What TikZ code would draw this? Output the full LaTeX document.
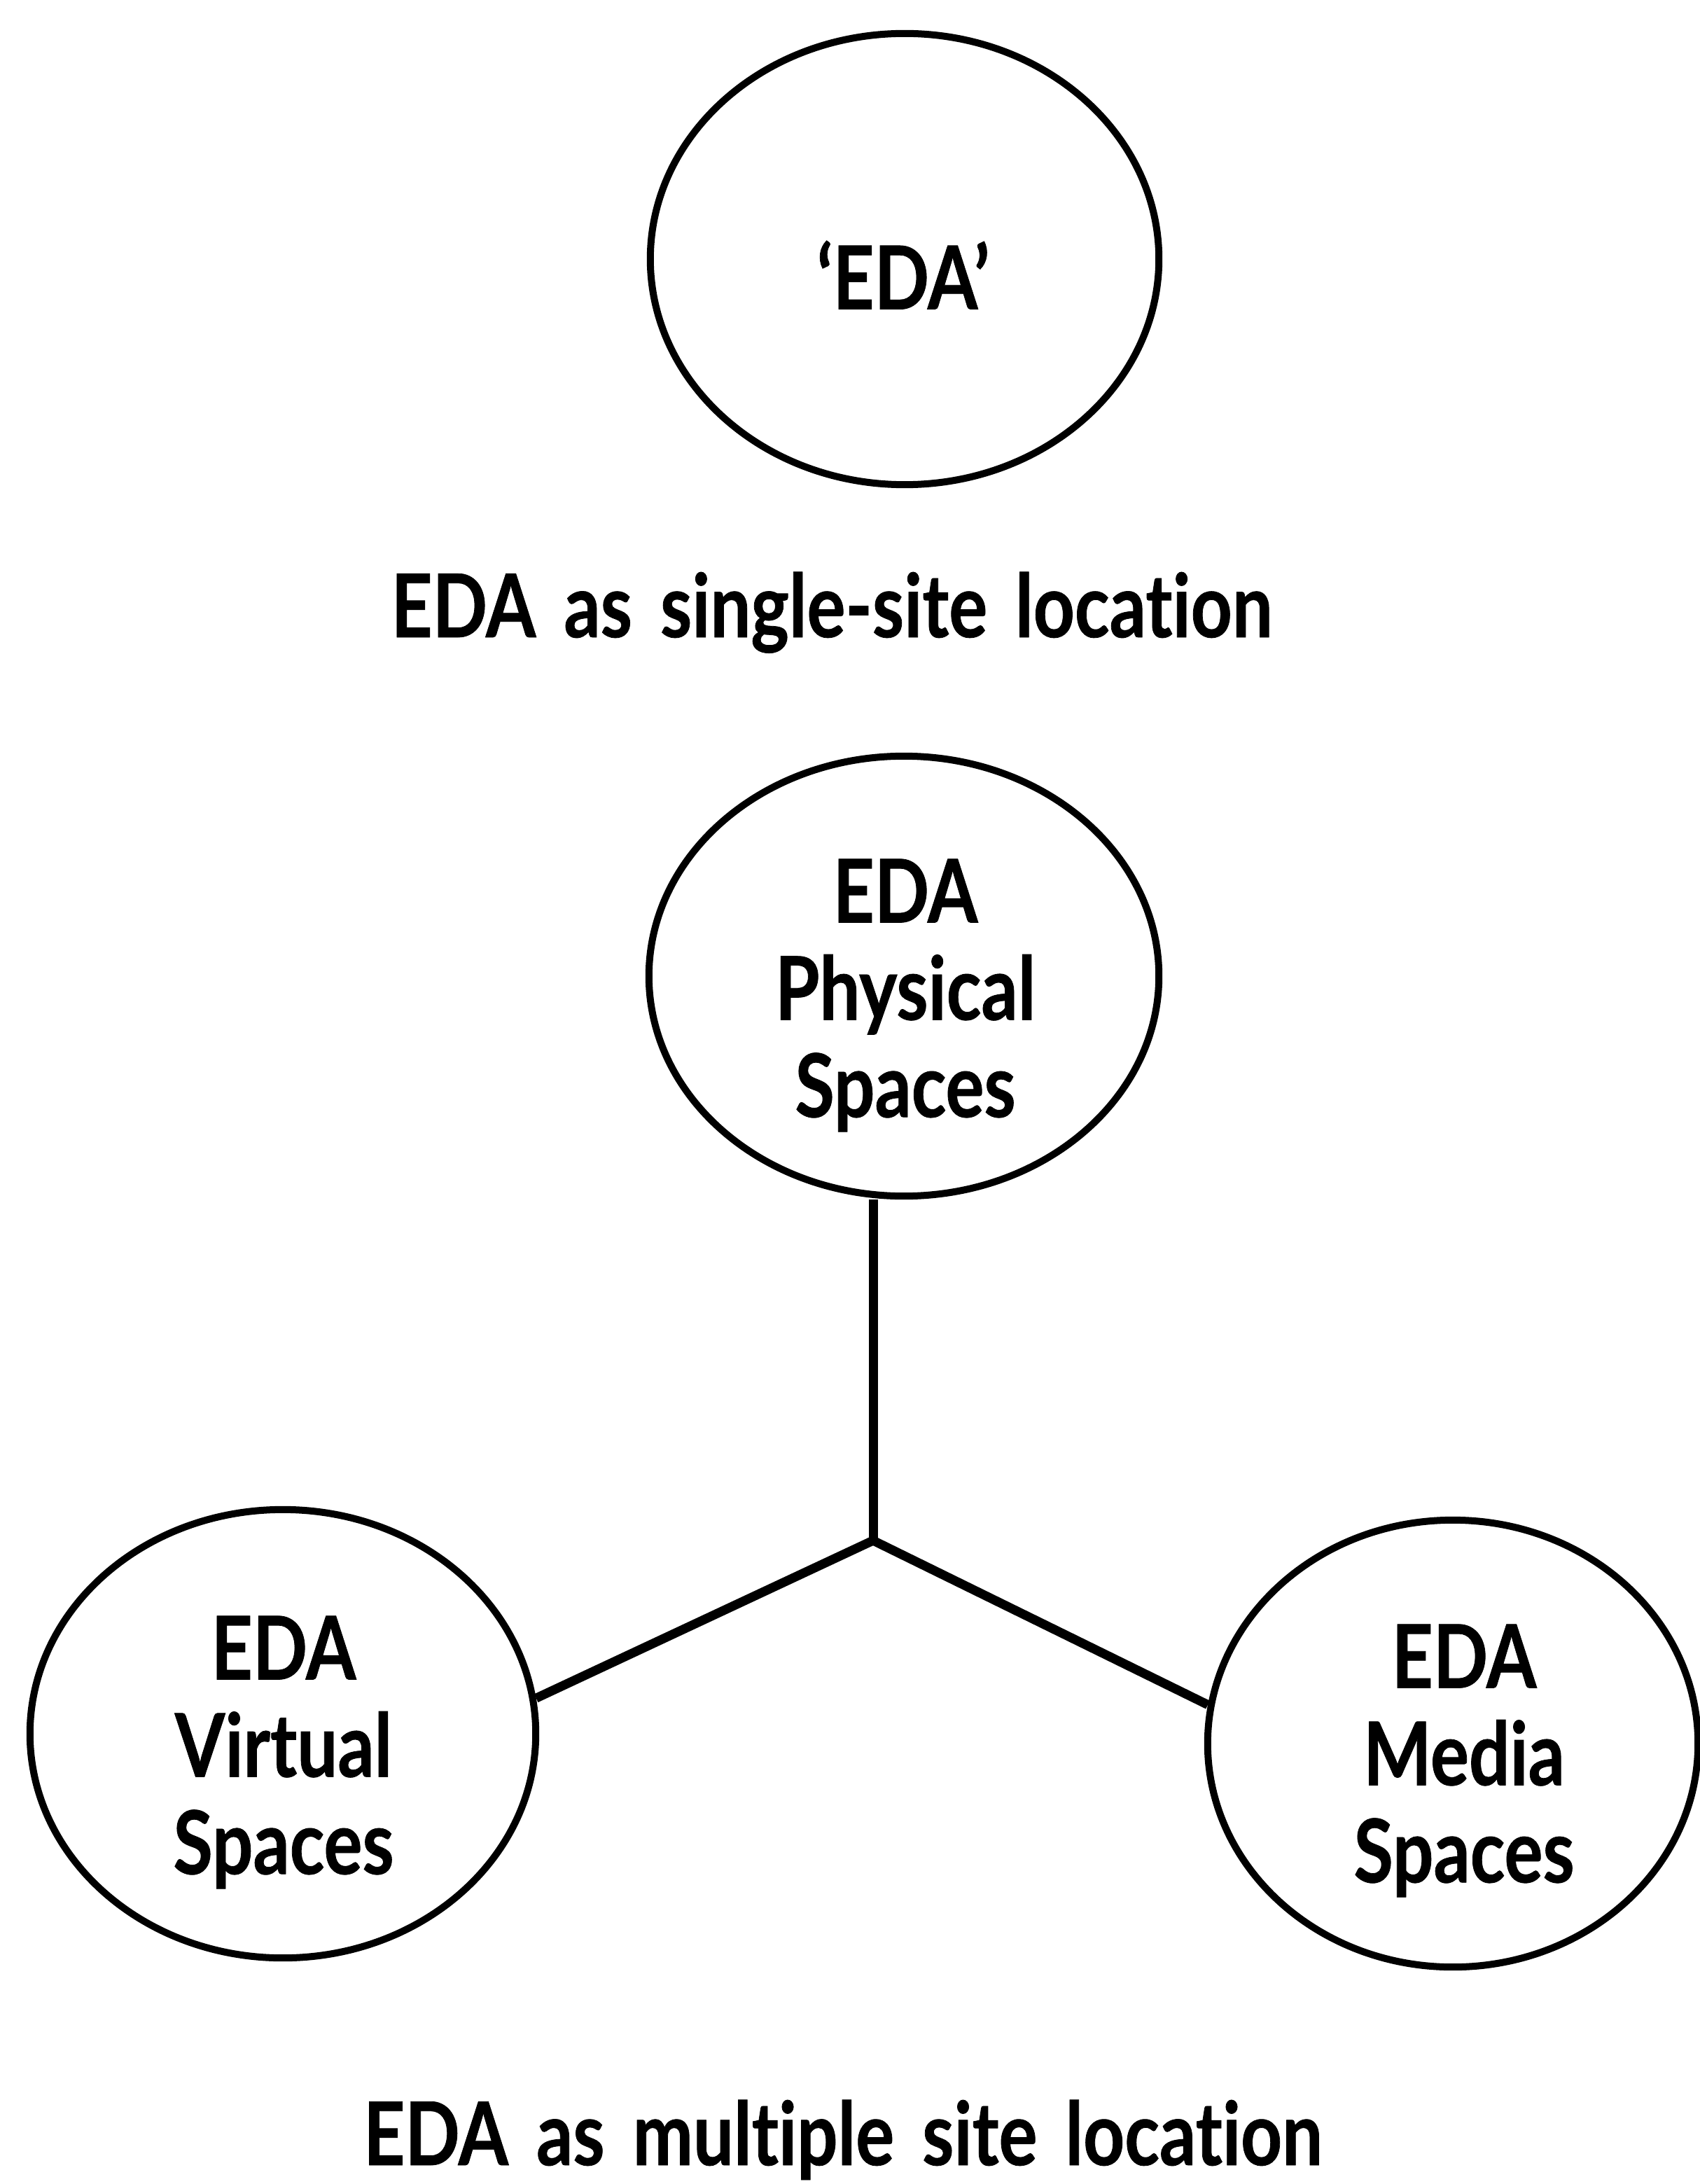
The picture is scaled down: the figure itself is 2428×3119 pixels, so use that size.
\documentclass[tikz,border=0pt]{standalone}
\usepackage{fontspec}
\setmainfont{Lato}[FakeStretch=0.82, WordSpace=1.6, FakeBold=0.6, Ligatures=NoCommon]
\usetikzlibrary{shapes.geometric}
\begin{document}
\begin{tikzpicture}[x=0.01cm, y=-0.01cm,
  every node/.style={font=\fontsize{35.7}{39.5}\selectfont\bfseries},
  blob/.style={ellipse, draw, line width=0.1cm, inner sep=0pt},
  txt/.style={inner sep=0pt, align=center},
  conn/.style={line width=0.13cm, line join=miter}]
\useasboundingbox (0,0) rectangle (2428,3119);
% ellipses
\node[blob, minimum width=7.26cm, minimum height=6.44cm] (top) at (1292,370) {};
\node[blob, minimum width=7.28cm, minimum height=6.28cm] (phys) at (1291,1394) {};
\node[blob, minimum width=7.22cm, minimum height=6.40cm] (virt) at (404,2476) {};
\node[blob, minimum width=7.00cm, minimum height=6.38cm] (media) at (2075,2490) {};
% texts
\node[txt, anchor=north] (topT) at (1290,343) {‘EDA’};
\node[txt, anchor=base] (title1) at (1188,910) {EDA as single-site location};
\node[txt, anchor=north] (physT) at (1293,1226) {EDA\\Physical\\Spaces};
\node[txt, anchor=north] (virtT) at (405,2307) {EDA\\Virtual\\Spaces};
\node[txt, anchor=north] (mediaT) at (2091,2319) {EDA\\Media\\Spaces};
\node[txt, anchor=base] (title2) at (1204,3092) {EDA as multiple site location};
% connectors
\coordinate (J) at (1247,2200);
\draw[conn] (J |- phys.south) -- (J);
\draw[conn] (J) -- (virt.8);
\draw[conn] (J) -- (media.171);
\end{tikzpicture}
\end{document}
